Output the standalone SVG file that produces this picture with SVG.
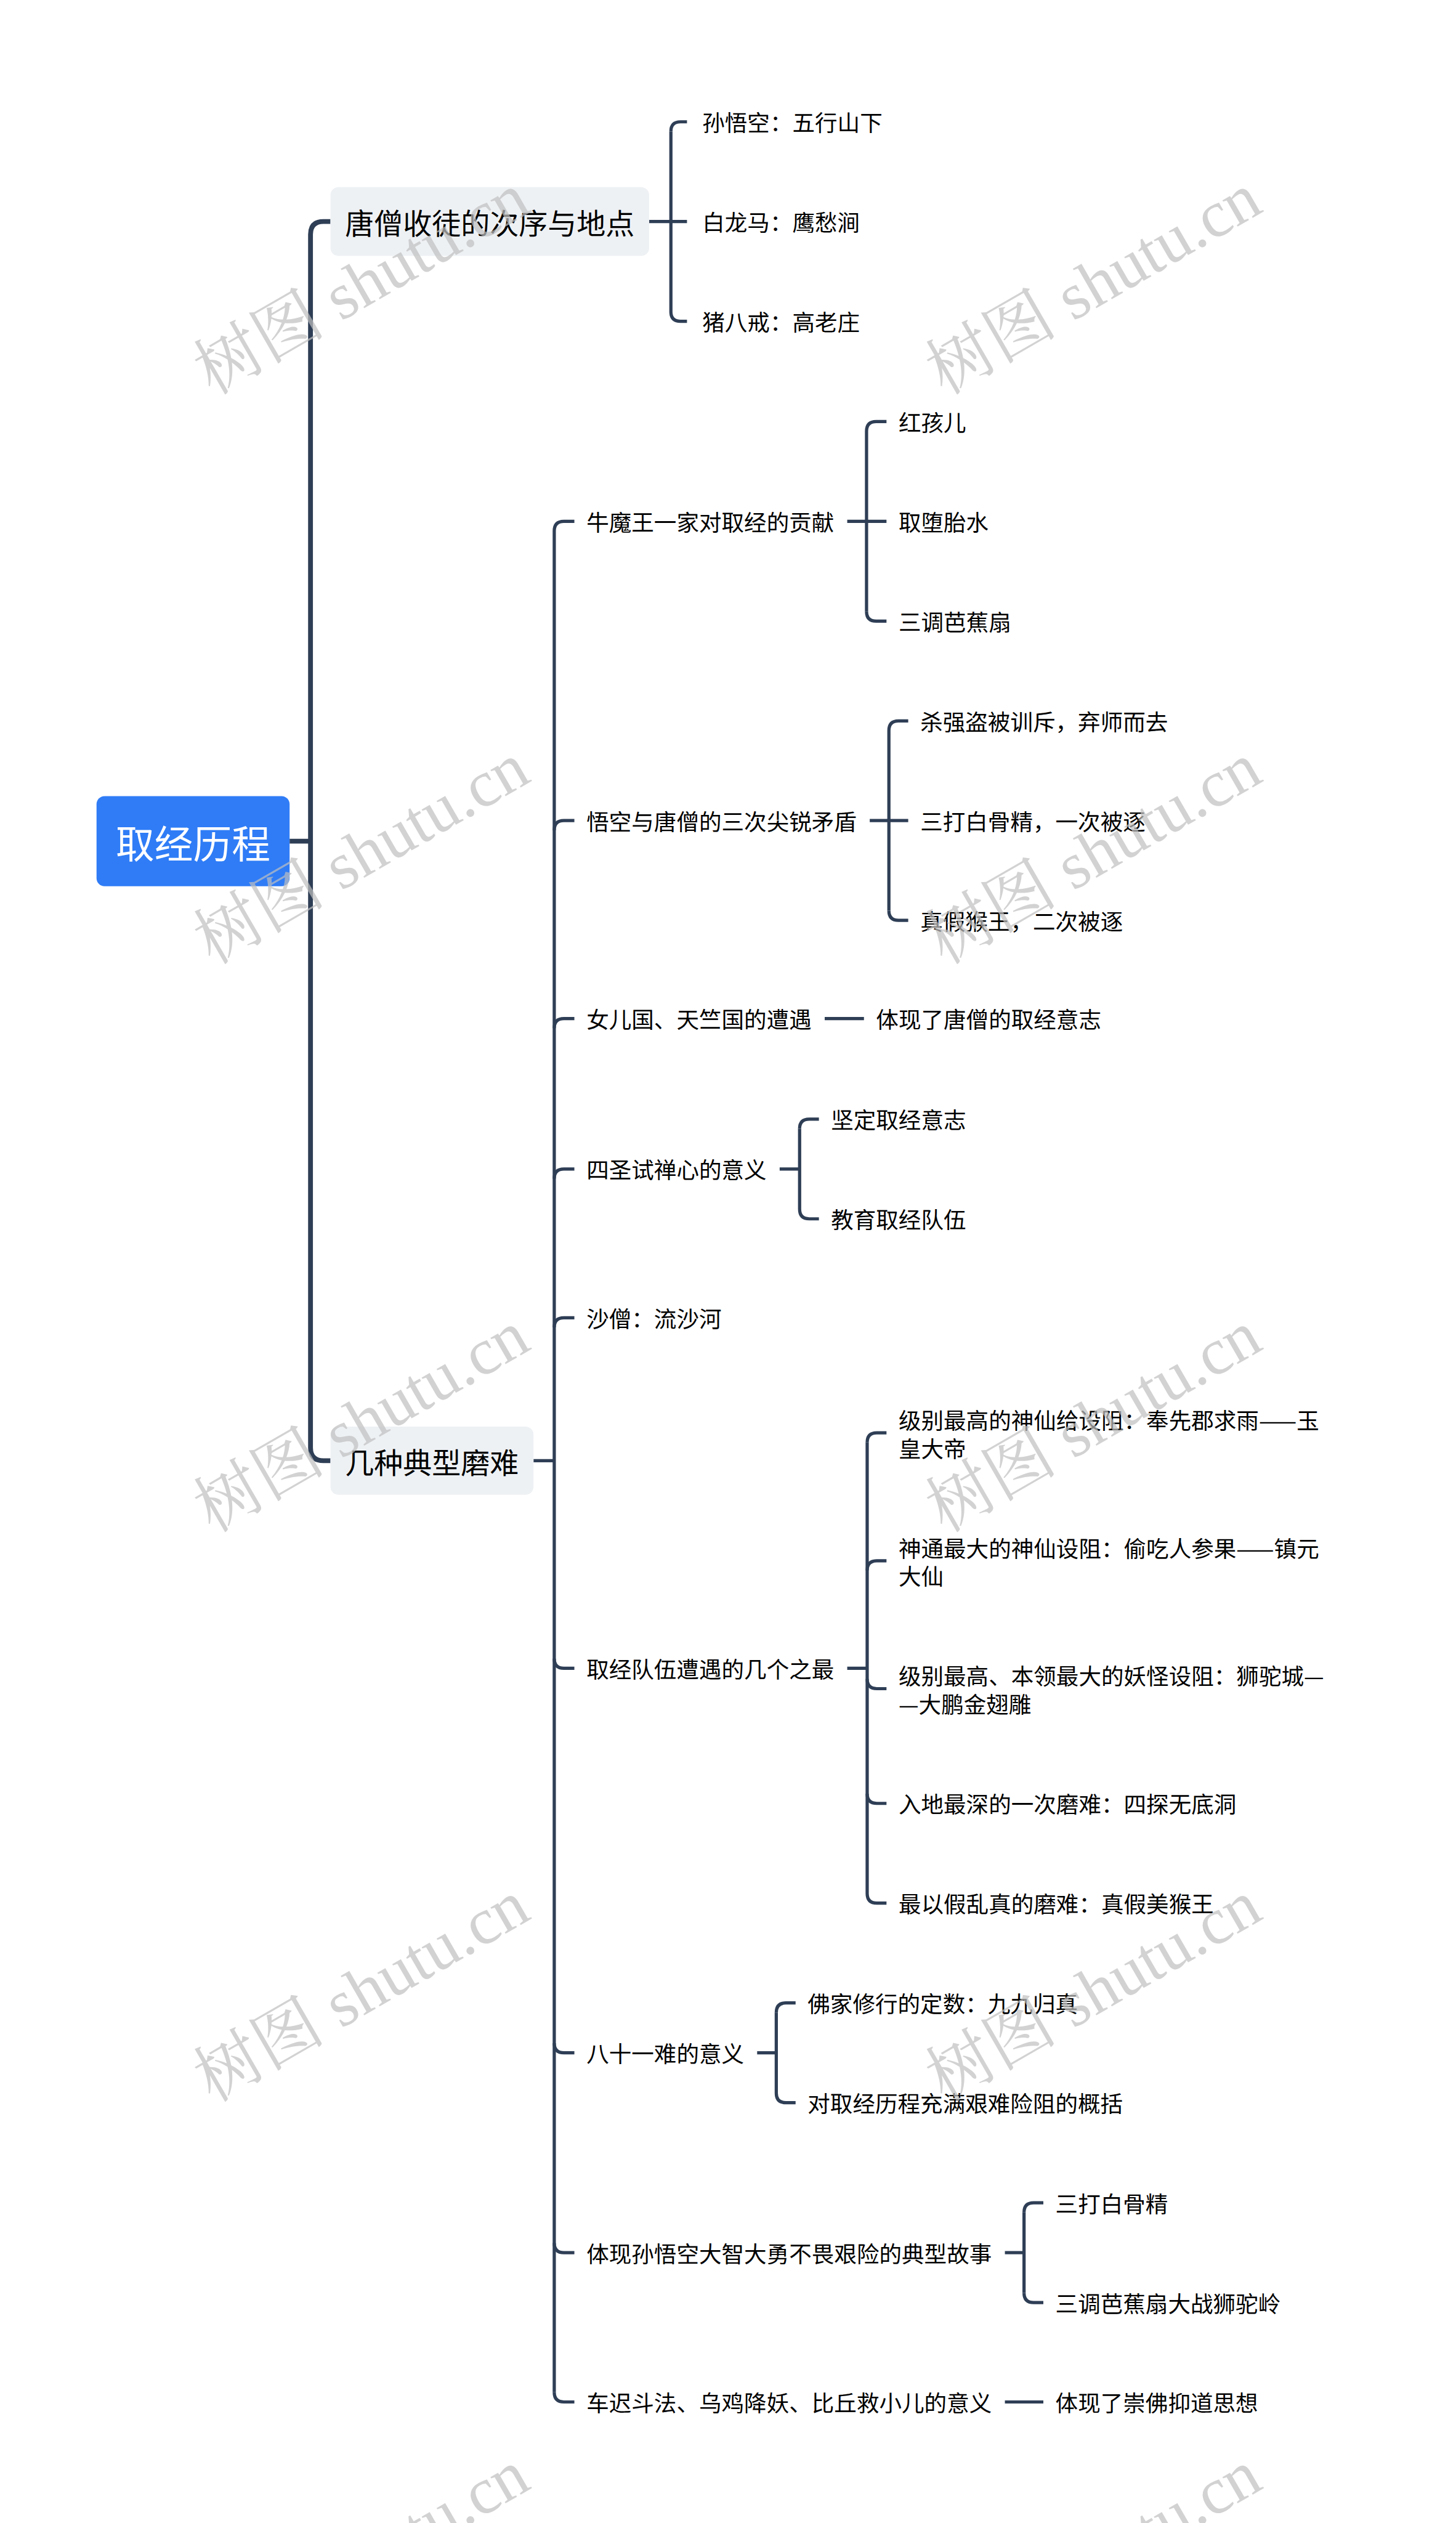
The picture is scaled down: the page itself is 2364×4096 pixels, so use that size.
<svg xmlns="http://www.w3.org/2000/svg" width="2364" height="4096" viewBox="0 0 2364 4096">
<defs>
<style>
.t {font-family:"Noto Sans CJK SC","Noto Sans CJK TC",sans-serif; fill:#000; dominant-baseline:central;}
.t0 {font-size:24px; fill:#fff;}
.t1 {font-size:18px;}
.t2 {font-size:14px;}
.c {fill:none; stroke:#2e3e55; stroke-linecap:butt;}
.c3 {stroke-width:3;}
.c2 {stroke-width:2;}
.wm {font-family:"Liberation Serif","Noto Serif CJK SC","Noto Sans CJK SC",serif; font-size:41px; fill:#c0c0c0; opacity:0.7;}
</style>
</defs>
<rect x="0" y="0" width="2364" height="4096" fill="#fff"/>
<g transform="scale(2.6122)">
<g id="connectors">
<path class="c c3" d="M180 522.8 H193"/>
<path class="c c3" d="M205.4 137.7 H201 Q193 137.7 193 145.7 V899.8 Q193 907.8 201 907.8 H205.4"/>
<!-- A children -->
<path class="c c2" d="M403.5 137.7 H427"/>
<path class="c c2" d="M417 81.7 V193.7"/>
<path class="c c2" d="M417 81.7 Q417 75.7 423 75.7 H427"/>
<path class="c c2" d="M417 193.7 Q417 199.7 423 199.7 H427"/>
<!-- B children -->
<path class="c c2" d="M331.6 907.8 H344.5"/>
<path class="c c2" d="M344.5 330 V1486.8"/>
<path class="c c2" d="M344.5 330 Q344.5 324 350.5 324 H357"/>
<path class="c c2" d="M344.5 516 Q344.5 510 350.5 510 H357"/>
<path class="c c2" d="M344.5 639 Q344.5 633 350.5 633 H357"/>
<path class="c c2" d="M344.5 732.5 Q344.5 726.5 350.5 726.5 H357"/>
<path class="c c2" d="M344.5 825 Q344.5 819 350.5 819 H357"/>
<path class="c c2" d="M344.5 1030.8 Q344.5 1036.8 350.5 1036.8 H357"/>
<path class="c c2" d="M344.5 1269.8 Q344.5 1275.8 350.5 1275.8 H357"/>
<path class="c c2" d="M344.5 1394 Q344.5 1400 350.5 1400 H357"/>
<path class="c c2" d="M344.5 1486.8 Q344.5 1492.8 350.5 1492.8 H357"/>
<!-- 牛魔王 -->
<path class="c c2" d="M526.6 324 H551"/>
<path class="c c2" d="M538.6 268 V380"/>
<path class="c c2" d="M538.6 268 Q538.6 262 544.6 262 H551"/>
<path class="c c2" d="M538.6 380 Q538.6 386 544.6 386 H551"/>
<!-- 悟空 -->
<path class="c c2" d="M540.6 510 H564.5"/>
<path class="c c2" d="M552.5 454 V566"/>
<path class="c c2" d="M552.5 454 Q552.5 448 558.5 448 H564.5"/>
<path class="c c2" d="M552.5 566 Q552.5 572 558.5 572 H564.5"/>
<!-- 女儿国 -->
<path class="c c2" d="M512.6 633 H537"/>
<!-- 四圣 -->
<path class="c c2" d="M484.6 726.5 H497"/>
<path class="c c2" d="M497 701.5 V751.5"/>
<path class="c c2" d="M497 701.5 Q497 695.5 503 695.5 H509"/>
<path class="c c2" d="M497 751.5 Q497 757.5 503 757.5 H509"/>
<!-- 取经队伍 -->
<path class="c c2" d="M526.6 1036.8 H539"/>
<path class="c c2" d="M539 896.5 V1176.8"/>
<path class="c c2" d="M539 896.5 Q539 890.5 545 890.5 H551"/>
<path class="c c2" d="M539 976 Q539 970 545 970 H551"/>
<path class="c c2" d="M539 1043.5 Q539 1049.5 545 1049.5 H551"/>
<path class="c c2" d="M539 1114.8 Q539 1120.8 545 1120.8 H551"/>
<path class="c c2" d="M539 1176.8 Q539 1182.8 545 1182.8 H551"/>
<!-- 八十一难 -->
<path class="c c2" d="M470.6 1275.8 H482.5"/>
<path class="c c2" d="M482.5 1250.8 V1300.8"/>
<path class="c c2" d="M482.5 1250.8 Q482.5 1244.8 488.5 1244.8 H494.5"/>
<path class="c c2" d="M482.5 1300.8 Q482.5 1306.8 488.5 1306.8 H494.5"/>
<!-- 体现孙悟空 -->
<path class="c c2" d="M624.6 1400 H636.5"/>
<path class="c c2" d="M636.5 1375 V1425"/>
<path class="c c2" d="M636.5 1375 Q636.5 1369 642.5 1369 H648.5"/>
<path class="c c2" d="M636.5 1425 Q636.5 1431 642.5 1431 H648.5"/>
<!-- 车迟 -->
<path class="c c2" d="M624.6 1492.8 H648.5"/>
</g>
<g id="root"><rect x="60" y="494.8" width="120" height="56" rx="5" fill="#2f7cf6"/><text class="t t0" x="120" y="522.8" text-anchor="middle">取经历程</text></g>
<g id="n-a"><rect x="205.4" y="116.3" width="198.1" height="42.8" rx="5" fill="#eef1f4"/><text class="t t1" x="214.5" y="137.7">唐僧收徒的次序与地点</text></g>
<g id="n-a1"><text class="t t2" x="436.5" y="75.7">孙悟空：五行山下</text></g>
<g id="n-a2"><text class="t t2" x="436.5" y="137.7">白龙马：鹰愁涧</text></g>
<g id="n-a3"><text class="t t2" x="436.5" y="199.7">猪八戒：高老庄</text></g>
<g id="n-b"><rect x="205.4" y="886.6" width="126.2" height="42.4" rx="5" fill="#eef1f4"/><text class="t t1" x="214.5" y="907.8">几种典型磨难</text></g>
<g id="n-b1"><text class="t t2" x="364.5" y="324">牛魔王一家对取经的贡献</text></g>
<g id="n-b1a"><text class="t t2" x="558.5" y="262">红孩儿</text></g>
<g id="n-b1b"><text class="t t2" x="558.5" y="324">取堕胎水</text></g>
<g id="n-b1c"><text class="t t2" x="558.5" y="386">三调芭蕉扇</text></g>
<g id="n-b2"><text class="t t2" x="364.5" y="510">悟空与唐僧的三次尖锐矛盾</text></g>
<g id="n-b2a"><text class="t t2" x="572" y="448">杀强盗被训斥，弃师而去</text></g>
<g id="n-b2b"><text class="t t2" x="572" y="510">三打白骨精，一次被逐</text></g>
<g id="n-b2c"><text class="t t2" x="572" y="572">真假猴王，二次被逐</text></g>
<g id="n-b3"><text class="t t2" x="364.5" y="633">女儿国、天竺国的遭遇</text></g>
<g id="n-b3a"><text class="t t2" x="544.5" y="633">体现了唐僧的取经意志</text></g>
<g id="n-b4"><text class="t t2" x="364.5" y="726.5">四圣试禅心的意义</text></g>
<g id="n-b4a"><text class="t t2" x="516.5" y="695.5">坚定取经意志</text></g>
<g id="n-b4b"><text class="t t2" x="516.5" y="757.5">教育取经队伍</text></g>
<g id="n-b5"><text class="t t2" x="364.5" y="819">沙僧：流沙河</text></g>
<g id="n-b6"><text class="t t2" x="364.5" y="1036.8">取经队伍遭遇的几个之最</text></g>
<g id="n-b6a"><text class="t t2" x="558.5" y="882.25">级别最高的神仙给设阻：奉先郡求雨——玉</text><text class="t t2" x="558.5" y="899.75">皇大帝</text></g>
<g id="n-b6b"><text class="t t2" x="558.5" y="961.75">神通最大的神仙设阻：偷吃人参果——镇元</text><text class="t t2" x="558.5" y="979.25">大仙</text></g>
<g id="n-b6c"><text class="t t2" x="558.5" y="1041.25">级别最高、本领最大的妖怪设阻：狮驼城—</text><text class="t t2" x="558.5" y="1058.75">—大鹏金翅雕</text></g>
<g id="n-b6d"><text class="t t2" x="558.5" y="1120.8">入地最深的一次磨难：四探无底洞</text></g>
<g id="n-b6e"><text class="t t2" x="558.5" y="1182.8">最以假乱真的磨难：真假美猴王</text></g>
<g id="n-b7"><text class="t t2" x="364.5" y="1275.8">八十一难的意义</text></g>
<g id="n-b7a"><text class="t t2" x="502" y="1244.8">佛家修行的定数：九九归真</text></g>
<g id="n-b7b"><text class="t t2" x="502" y="1306.8">对取经历程充满艰难险阻的概括</text></g>
<g id="n-b8"><text class="t t2" x="364.5" y="1400">体现孙悟空大智大勇不畏艰险的典型故事</text></g>
<g id="n-b8a"><text class="t t2" x="656" y="1369">三打白骨精</text></g>
<g id="n-b8b"><text class="t t2" x="656" y="1431">三调芭蕉扇大战狮驼岭</text></g>
<g id="n-b9"><text class="t t2" x="364.5" y="1492.8">车迟斗法、乌鸡降妖、比丘救小儿的意义</text></g>
<g id="n-b9a"><text class="t t2" x="656" y="1492.8">体现了崇佛抑道思想</text></g>
<g id="watermark">
<text class="wm" x="132" y="246" transform="rotate(-30 132 246)">树图 shutu.cn</text>
<text class="wm" x="587" y="246" transform="rotate(-30 587 246)">树图 shutu.cn</text>
<text class="wm" x="132" y="600" transform="rotate(-30 132 600)">树图 shutu.cn</text>
<text class="wm" x="587" y="600" transform="rotate(-30 587 600)">树图 shutu.cn</text>
<text class="wm" x="132" y="953" transform="rotate(-30 132 953)">树图 shutu.cn</text>
<text class="wm" x="587" y="953" transform="rotate(-30 587 953)">树图 shutu.cn</text>
<text class="wm" x="132" y="1307" transform="rotate(-30 132 1307)">树图 shutu.cn</text>
<text class="wm" x="587" y="1307" transform="rotate(-30 587 1307)">树图 shutu.cn</text>
<text class="wm" x="132" y="1661" transform="rotate(-30 132 1661)">树图 shutu.cn</text>
<text class="wm" x="587" y="1661" transform="rotate(-30 587 1661)">树图 shutu.cn</text>
</g>
</g>
</svg>
